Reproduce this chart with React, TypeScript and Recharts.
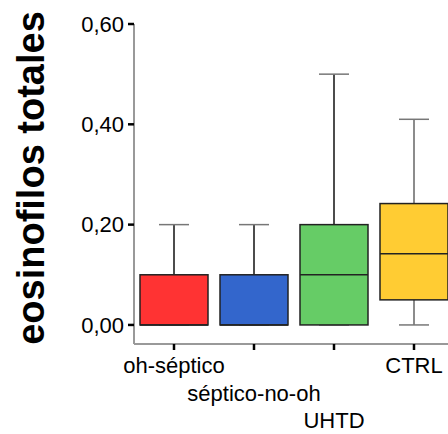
import { ComposedChart, Bar, XAxis, YAxis } from 'recharts';

const groups = ['oh-séptico', 'séptico-no-oh', 'UHTD', 'CTRL'];
const mins = [0, 0, 0, 0];
const q1s = [0, 0, 0, 0.05];
const medians = [0, 0, 0.1, 0.142];
const q3s = [0.1, 0.1, 0.2, 0.242];
const maxs = [0.2, 0.2, 0.5, 0.41];
const colors = ['#FF3333', '#3366CC', '#66CC66', '#FFCC33'];
const yTicks = [0, 0.2, 0.4, 0.6];

const data = groups.map((g, i) => ({
  name: g,
  range: [mins[i], maxs[i]],
  min: mins[i],
  q1: q1s[i],
  median: medians[i],
  q3: q3s[i],
  max: maxs[i],
  fill: colors[i],
  last: i === groups.length - 1,
}));

const font = '"Liberation Sans", Arial, sans-serif';

const BoxShape = (props: any) => {
  const { x, y, width, height, payload } = props;
  const { min, q1, median, q3, max, fill, last } = payload;
  const top = Math.min(y, y + height);
  const h = Math.abs(height);
  const k = h / (max - min);
  const py = (v: number) => top + (max - v) * k;
  const cx = x + width / 2;
  const cap = 15;
  const stem = last ? '#666' : '#111';
  return (
    <g>
      <line x1={cx} x2={cx} y1={py(max)} y2={py(q3)} stroke={stem} strokeWidth={1.5} />
      <line x1={cx - cap} x2={cx + cap} y1={py(max)} y2={py(max)} stroke="#777" strokeWidth={1.5} />
      <line x1={cx} x2={cx} y1={py(q1)} y2={py(min)} stroke={stem} strokeWidth={1.5} />
      <line x1={cx - cap} x2={cx + cap} y1={py(min)} y2={py(min)} stroke="#777" strokeWidth={1.5} />
      <rect x={x} y={py(q3)} width={width} height={py(q1) - py(q3)} fill={fill} stroke="#222" strokeWidth={1.5} />
      <line x1={x} x2={x + width} y1={py(median)} y2={py(median)} stroke="#222" strokeWidth={1.5} />
    </g>
  );
};

const rowOf = [0, 1, 2, 0];

const XTick = (props: any) => {
  const { x, y, payload, index } = props;
  const row = rowOf[index] ?? 0;
  return (
    <text x={x} y={y + 21 + row * 27.5} textAnchor="middle" fontSize={22} fontFamily={font} fill="#000">
      {payload.value}
    </text>
  );
};

export default function App() {
  return (
    <div style={{ position: 'absolute', left: 0, top: 0, width: 448, height: 434, overflow: 'hidden', background: '#fff' }}>
      <ComposedChart
        width={460}
        height={434}
        data={data}
        margin={{ top: 24, right: 6, bottom: 0, left: 0 }}
        barCategoryGap={6}
      >
        <XAxis
          xAxisId="top"
          orientation="top"
          dataKey="name"
          height={0}
          tick={false}
          tickLine={false}
          axisLine={{ stroke: '#999', strokeWidth: 2 }}
        />
        <XAxis
          dataKey="name"
          height={90}
          interval={0}
          tickSize={6}
          tickMargin={2}
          tickLine={{ stroke: '#000', strokeWidth: 2.5 }}
          axisLine={{ stroke: '#999', strokeWidth: 2 }}
          tick={<XTick />}
        />
        <YAxis
          width={134}
          domain={[-0.038, 0.6]}
          allowDataOverflow
          ticks={yTicks}
          tickSize={6}
          tickMargin={4}
          tickFormatter={(v: number) => v.toFixed(2).replace('.', ',')}
          tick={{ fontSize: 22, fontFamily: font, fill: '#000' }}
          tickLine={{ stroke: '#000', strokeWidth: 2.5 }}
          axisLine={{ stroke: '#999', strokeWidth: 2 }}
          label={{
            content: () => (
              <text
                transform="translate(44,178) rotate(-90)"
                textAnchor="middle"
                fontSize={38}
                fontWeight="bold"
                fontFamily={font}
                fill="#000"
              >
                eosinofilos totales
              </text>
            ),
          }}
        />
        <Bar dataKey="range" shape={<BoxShape />} isAnimationActive={false} />
      </ComposedChart>
    </div>
  );
}
